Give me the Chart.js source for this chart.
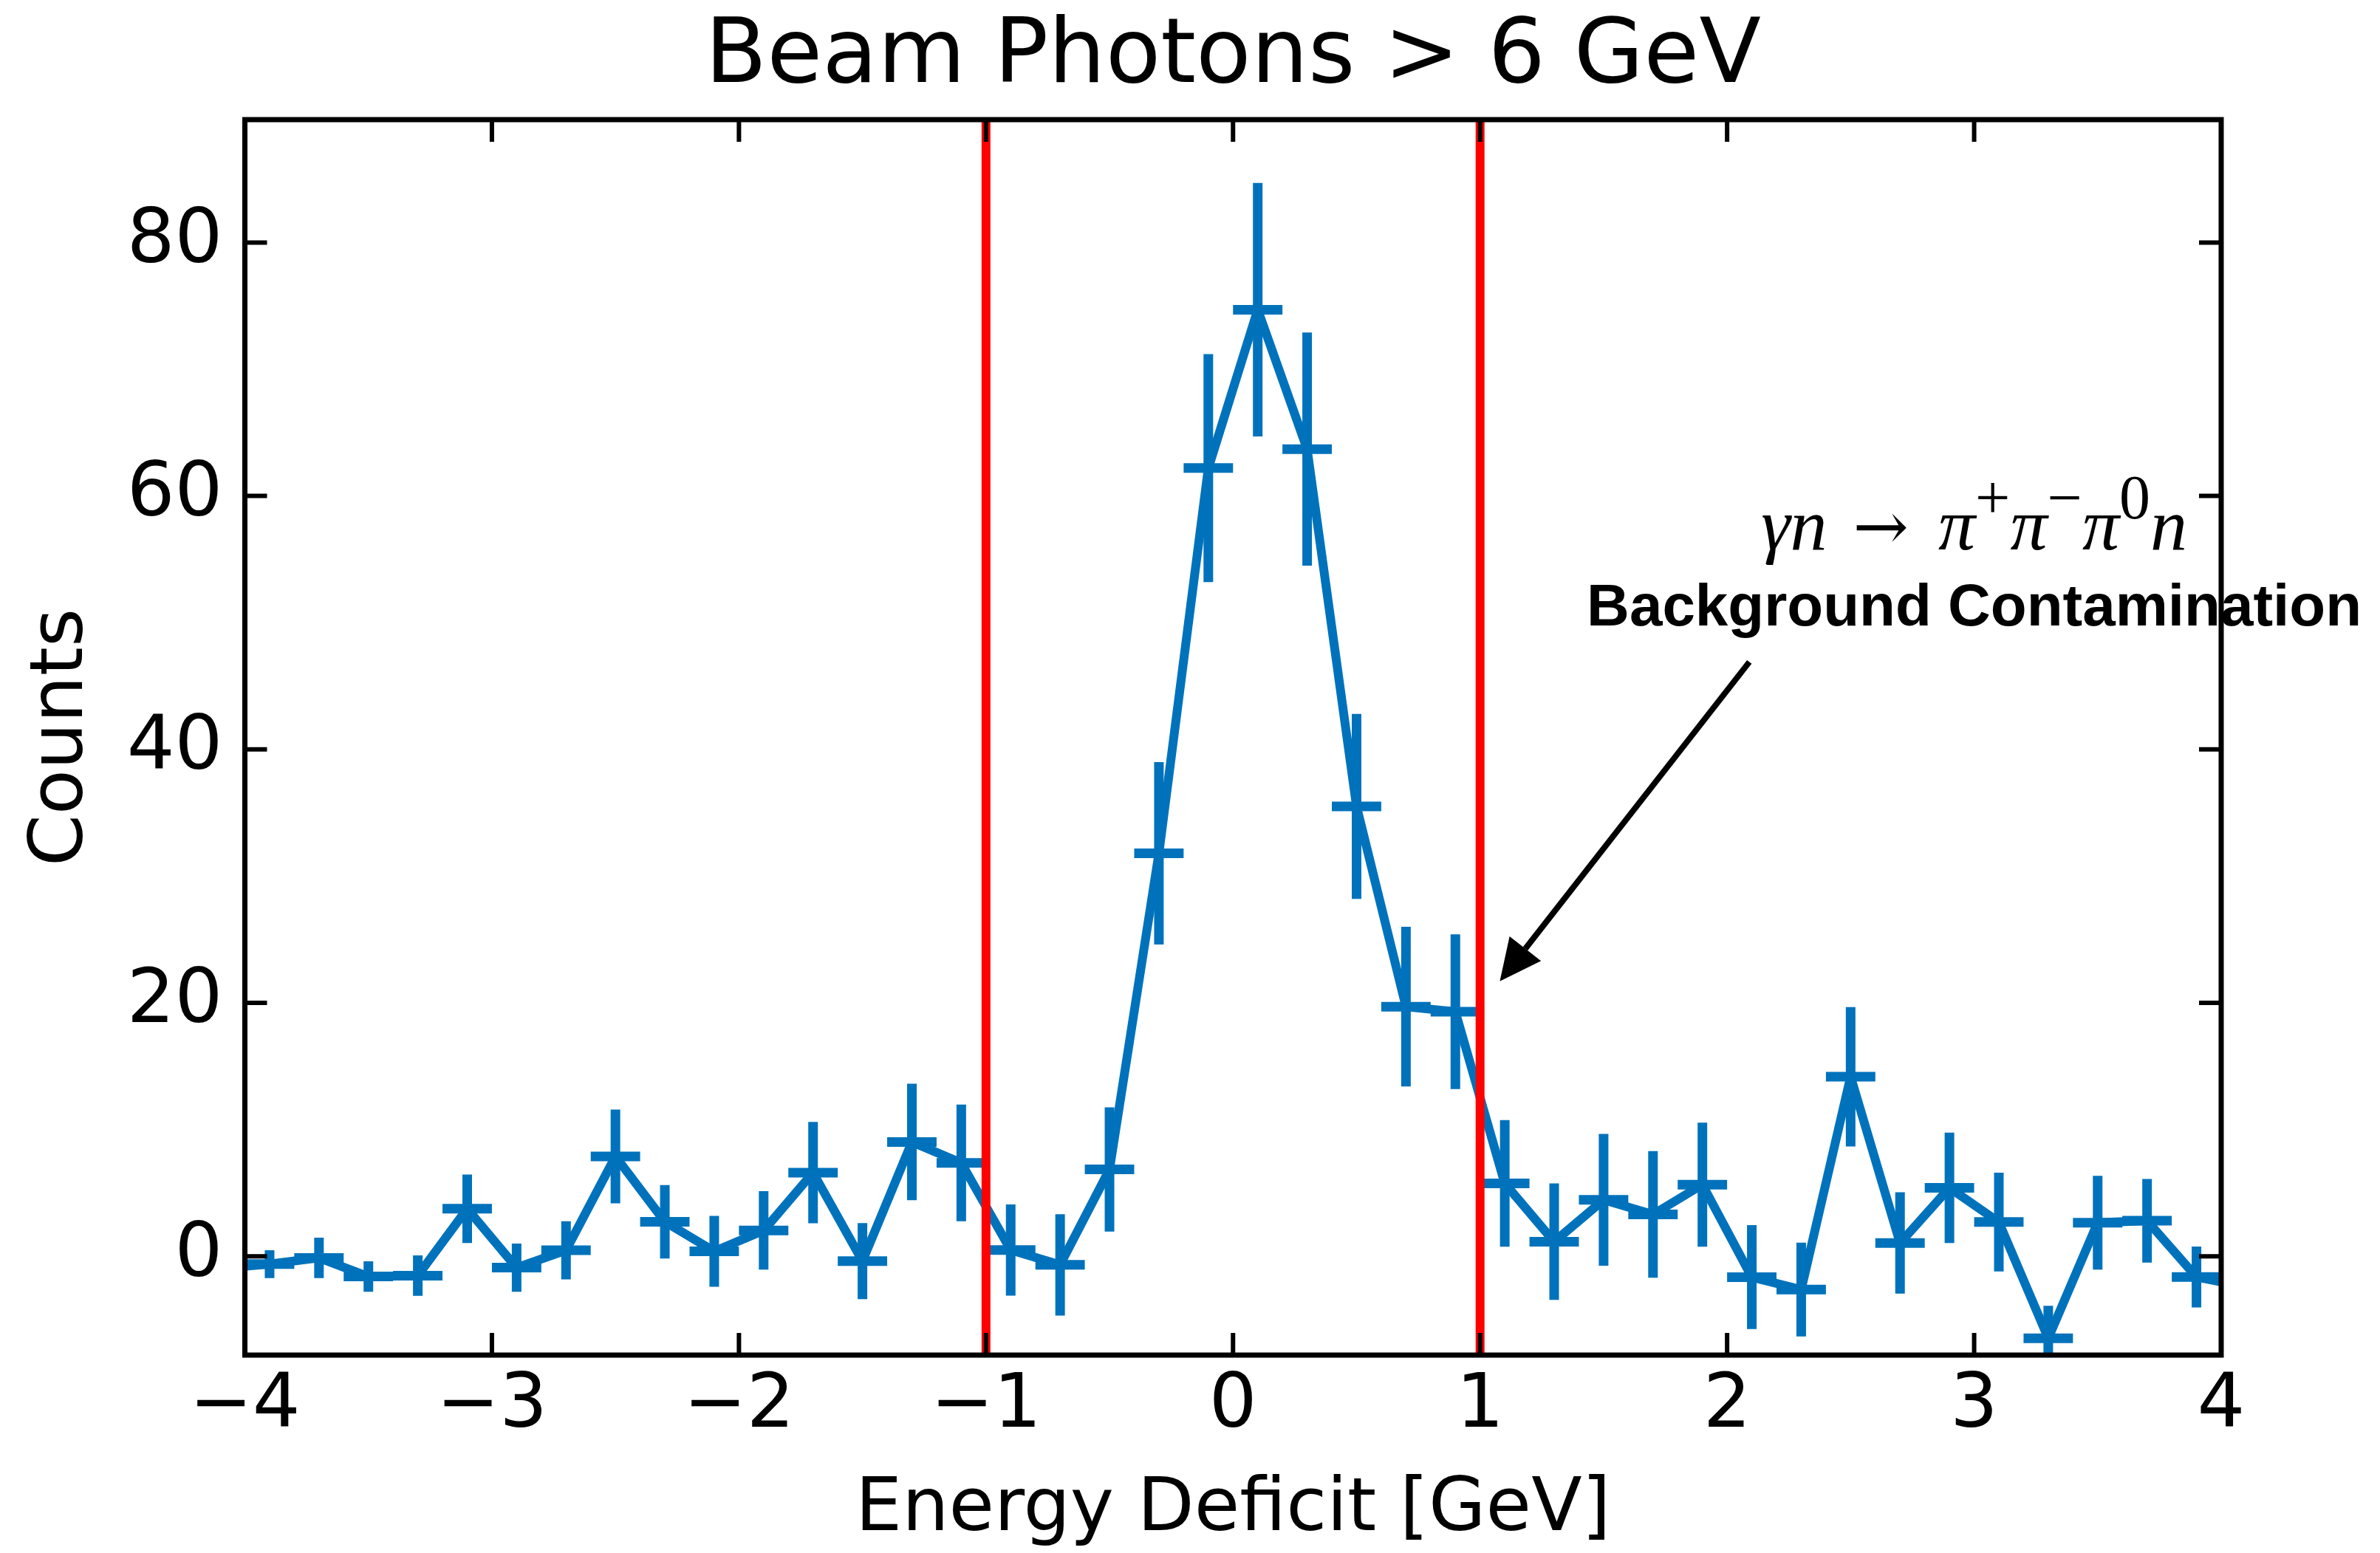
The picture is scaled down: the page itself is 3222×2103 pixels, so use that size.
<!DOCTYPE html>
<html>
<head>
<meta charset="utf-8">
<title>Beam Photons > 6 GeV</title>
<script src="https://cdn.jsdelivr.net/npm/chart.js@4.4.1/dist/chart.umd.min.js"></script>
<style>
  html, body { margin: 0; padding: 0; background: #fff; }
  #deficit { display: block; }
</style>
</head>
<body>
<canvas id="deficit" width="3222" height="2103"></canvas>
<script>
// energy deficit bins (GeV), background-subtracted counts and their errors
const binCenters = [-4.1, -3.9, -3.7, -3.5, -3.3, -3.1, -2.9, -2.7, -2.5, -2.3, -2.1,
  -1.9, -1.7, -1.5, -1.3, -1.1, -0.9, -0.7, -0.5, -0.3, -0.1,
  0.1, 0.3, 0.5, 0.7, 0.9, 1.1, 1.3, 1.5, 1.7, 1.9,
  2.1, 2.3, 2.5, 2.7, 2.9, 3.1, 3.3, 3.5, 3.7, 3.9, 4.1];
const counts = [-0.95, -0.62, -0.13, -1.6, -1.53, 3.75, -0.9, 0.47, 7.88, 2.72, 0.39,
  2.04, 6.6, -0.38, 9.02, 7.37, 0.49, -0.68, 6.85, 31.8, 62.2,
  74.7, 63.7, 35.5, 19.7, 19.3, 5.75, 1.15, 4.45, 3.3, 5.65,
  -1.65, -2.63, 14.17, 1.05, 5.4, 2.7, -6.47, 2.65, 2.8, -1.64, -2.4];
const countErrors = [1.2, 1.1, 1.6, 1.2, 1.6, 2.7, 1.9, 2.3, 3.7, 2.9, 2.8,
  3.1, 4.0, 3.0, 4.6, 4.6, 3.6, 4.0, 4.9, 7.2, 9.0,
  10.0, 9.2, 7.3, 6.3, 6.1, 5.0, 4.6, 5.2, 5.0, 4.9,
  4.1, 3.7, 5.5, 4.0, 4.35, 3.9, 2.56, 3.7, 3.3, 2.4, 2.4];
const binHalfWidth = 0.1;

// cut window and axis settings
const cutLines = [-1, 1];
const xRange = [-4, 4];
const yRange = [-7.8, 89.7];
const xTicks = [-4, -3, -2, -1, 0, 1, 2, 3, 4];
const yTicks = [0, 20, 40, 60, 80];

// annotation anchors in data units
const formulaPos = { x: 3.0, y: 55.8 };
const labelPos = { x: 3.0, y: 49.8 };
const arrowFrom = { x: 2.09, y: 46.9 };
const arrowTo = { x: 1.08, y: 21.7 };

const BLUE = '#0072bb';
const SANS = "'DejaVu Sans', sans-serif";

const minus = v => (v < 0 ? '\u2212' + Math.abs(v) : String(v));

// vertical count errors and horizontal bin widths, drawn right after the data line
const errorBars = {
  id: 'errorBars',
  afterDatasetDraw(chart, args) {
    if (args.index !== 0) return;
    const { ctx, chartArea: a, scales: { x, y } } = chart;
    ctx.save();
    ctx.beginPath();
    ctx.rect(a.left, a.top, a.right - a.left, a.bottom - a.top);
    ctx.clip();
    ctx.strokeStyle = BLUE;
    ctx.lineWidth = 13;
    ctx.lineCap = 'butt';
    binCenters.forEach((c, i) => {
      const px = x.getPixelForValue(c);
      const py = y.getPixelForValue(counts[i]);
      ctx.beginPath();
      ctx.moveTo(px, y.getPixelForValue(counts[i] - countErrors[i]));
      ctx.lineTo(px, y.getPixelForValue(counts[i] + countErrors[i]));
      ctx.moveTo(x.getPixelForValue(c - binHalfWidth), py);
      ctx.lineTo(x.getPixelForValue(c + binHalfWidth), py);
      ctx.stroke();
    });
    ctx.restore();
  }
};

// box frame with inward ticks on all four sides
const frame = {
  id: 'frame',
  afterDatasetsDraw(chart) {
    const { ctx, chartArea: a, scales: { x, y } } = chart;
    const len = 30;
    ctx.save();
    ctx.strokeStyle = '#000';
    ctx.lineWidth = 6;
    ctx.beginPath();
    xTicks.forEach(v => {
      const px = x.getPixelForValue(v);
      ctx.moveTo(px, a.bottom); ctx.lineTo(px, a.bottom - len);
      ctx.moveTo(px, a.top); ctx.lineTo(px, a.top + len);
    });
    yTicks.forEach(v => {
      const py = y.getPixelForValue(v);
      ctx.moveTo(a.left, py); ctx.lineTo(a.left + len, py);
      ctx.moveTo(a.right, py); ctx.lineTo(a.right - len, py);
    });
    ctx.stroke();
    ctx.lineWidth = 7;
    ctx.strokeRect(a.left, a.top, a.right - a.left, a.bottom - a.top);
    ctx.restore();
  }
};

// title, reaction formula, label and arrow
const annotations = {
  id: 'annotations',
  afterDraw(chart) {
    const { ctx, chartArea: a, scales: { x, y } } = chart;
    ctx.save();
    ctx.fillStyle = '#000';
    ctx.textBaseline = 'alphabetic';

    ctx.font = `122px ${SANS}`;
    ctx.textAlign = 'center';
    ctx.fillText('Beam Photons > 6 GeV', (a.left + a.right) / 2, 111);

    // γn → π+π−π0n, set piece by piece with raised charges
    const main = 100, sup = 84, rise = 42;
    const serif = "'Liberation Serif', 'DejaVu Serif', serif";
    const symbol = "'DejaVu Serif', serif";
    const parts = [
      { t: '\u03b3n', f: `italic ${main}px ${serif}`, dy: 0 },
      { t: ' ', f: `${main * 1.4}px ${serif}`, dy: 0 },
      { t: '\u2192', f: `${main * 0.9}px ${symbol}`, dy: 0 },
      { t: ' ', f: `${main * 1.6}px ${serif}`, dy: 0 },
      { t: '\u03c0', f: `italic ${main}px ${serif}`, dy: 0 },
      { t: '+', f: `${sup}px ${serif}`, dy: -rise },
      { t: '\u03c0', f: `italic ${main}px ${serif}`, dy: 0 },
      { t: '\u2212', f: `${sup}px ${serif}`, dy: -rise },
      { t: '\u03c0', f: `italic ${main}px ${serif}`, dy: 0 },
      { t: '0', f: `${sup}px ${serif}`, dy: -rise },
      { t: 'n', f: `italic ${main}px ${serif}`, dy: 0 }
    ];
    ctx.textAlign = 'left';
    const widths = parts.map(p => { ctx.font = p.f; return ctx.measureText(p.t).width; });
    const total = widths.reduce((s, w) => s + w, 0);
    let cx = x.getPixelForValue(formulaPos.x) - total / 2;
    const fy = y.getPixelForValue(formulaPos.y);
    parts.forEach((p, i) => {
      ctx.font = p.f;
      ctx.fillText(p.t, cx, fy + p.dy);
      cx += widths[i];
    });

    ctx.font = `bold 80px 'Liberation Sans', Arial, sans-serif`;
    ctx.textAlign = 'center';
    ctx.fillText('Background Contamination', x.getPixelForValue(labelPos.x), y.getPixelForValue(labelPos.y));

    // arrow pointing at the upper cut
    const x0 = x.getPixelForValue(arrowFrom.x), y0 = y.getPixelForValue(arrowFrom.y);
    const x1 = x.getPixelForValue(arrowTo.x), y1 = y.getPixelForValue(arrowTo.y);
    const ang = Math.atan2(y1 - y0, x1 - x0);
    const headLen = 56, headHalf = 27;
    const bx = x1 - headLen * Math.cos(ang), by = y1 - headLen * Math.sin(ang);
    ctx.strokeStyle = '#000';
    ctx.lineWidth = 8;
    ctx.beginPath();
    ctx.moveTo(x0, y0);
    ctx.lineTo(bx, by);
    ctx.stroke();
    ctx.beginPath();
    ctx.moveTo(x1, y1);
    ctx.lineTo(bx + headHalf * Math.sin(ang), by - headHalf * Math.cos(ang));
    ctx.lineTo(bx - headHalf * Math.sin(ang), by + headHalf * Math.cos(ang));
    ctx.closePath();
    ctx.fill();
    ctx.restore();
  }
};

new Chart(document.getElementById('deficit').getContext('2d'), {
  type: 'line',
  data: {
    datasets: [
      {
        label: 'Counts',
        data: binCenters.map((c, i) => ({ x: c, y: counts[i] })),
        borderColor: BLUE,
        borderWidth: 12,
        pointRadius: 0,
        tension: 0,
        clip: 0,
        order: 2
      },
      ...cutLines.map(c => ({
        label: 'cut ' + c,
        data: [{ x: c, y: yRange[0] }, { x: c, y: yRange[1] }],
        borderColor: '#ff0000',
        borderWidth: 12,
        pointRadius: 0,
        clip: 0,
        order: 1
      }))
    ]
  },
  options: {
    responsive: false,
    animation: false,
    devicePixelRatio: 1,
    layout: { padding: { top: 162, right: 215, left: 0, bottom: 0 } },
    plugins: {
      legend: { display: false },
      tooltip: { enabled: false },
      title: { display: false }
    },
    scales: {
      x: {
        type: 'linear',
        min: xRange[0],
        max: xRange[1],
        grid: { display: false, drawTicks: false },
        border: { display: false },
        afterBuildTicks: s => { s.ticks = xTicks.map(v => ({ value: v })); },
        afterFit: s => { s.height = 268; },
        ticks: {
          autoSkip: false,
          maxRotation: 0,
          padding: 9,
          color: '#000',
          font: { family: SANS, size: 102 },
          callback: v => minus(v)
        },
        title: {
          display: true,
          text: 'Energy Deficit [GeV]',
          color: '#000',
          font: { family: SANS, size: 100, lineHeight: 1.14 },
          padding: { top: 0, bottom: 0 }
        }
      },
      y: {
        type: 'linear',
        min: yRange[0],
        max: yRange[1],
        grid: { display: false, drawTicks: false },
        border: { display: false },
        afterBuildTicks: s => { s.ticks = yTicks.map(v => ({ value: v })); },
        afterFit: s => { s.width = 331.5; },
        ticks: {
          autoSkip: false,
          padding: 30,
          color: '#000',
          font: { family: SANS, size: 102 },
          callback: v => minus(v)
        },
        title: {
          display: true,
          text: 'Counts',
          color: '#000',
          font: { family: SANS, size: 100, lineHeight: 1.2 },
          padding: { top: 25, bottom: 0 }
        }
      }
    }
  },
  plugins: [errorBars, frame, annotations]
});
</script>
</body>
</html>
